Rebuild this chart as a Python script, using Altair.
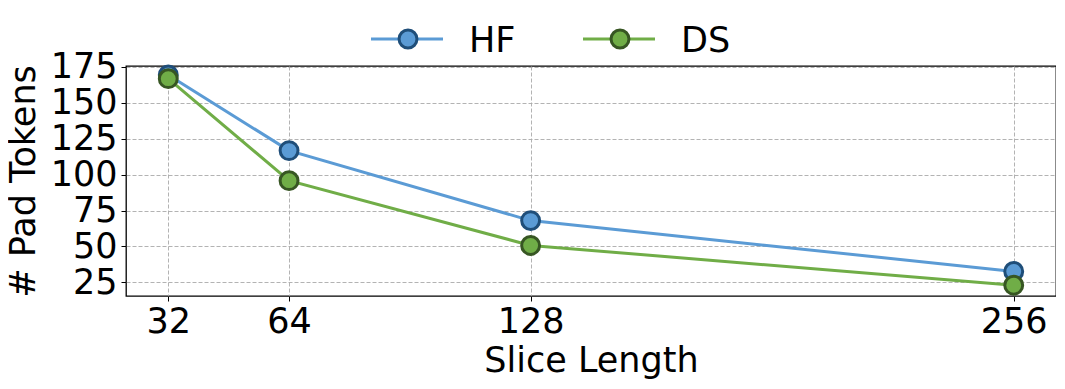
import altair as alt
import pandas as pd

slice_length = [32, 64, 128, 256]
hf_tokens = [169.4, 116.7, 68.0, 32.6]
ds_tokens = [166.8, 95.8, 50.7, 23.0]
series_names = ["HF", "DS"]
fill_colors = ["#5B9BD5", "#70AD47"]
edge_colors = ["#1F4E79", "#375623"]
y_ticks = [25, 50, 75, 100, 125, 150, 175]

df = pd.DataFrame({
    "Slice Length": slice_length * 2,
    "Pad Tokens": hf_tokens + ds_tokens,
    "Series": ["HF"] * 4 + ["DS"] * 4,
})

FONT = "DejaVu Sans"
x_scale = alt.Scale(domain=[20.8, 267.2], nice=False, zero=False)
y_scale = alt.Scale(domain=[15.5, 175.6], nice=False, zero=False)

x_enc = alt.X("Slice Length:Q", scale=x_scale,
              axis=alt.Axis(values=slice_length, title="Slice Length", format="d"))
y_enc = alt.Y("Pad Tokens:Q", scale=y_scale,
              axis=alt.Axis(values=y_ticks, title="# Pad Tokens"))

layers = []
for name, fc, ec in zip(series_names, fill_colors, edge_colors):
    sub = alt.Chart(df).transform_filter(alt.datum.Series == name)
    layers.append(sub.mark_line(color=fc, strokeWidth=3).encode(x=x_enc, y=y_enc))
    layers.append(sub.mark_point(filled=True, shape="circle", size=320, fill=fc,
                                 stroke=ec, strokeWidth=3, opacity=1).encode(x=x_enc, y=y_enc))

# manual legend above the plot
legend_x = [282, 494]
leg_df = pd.DataFrame({"Series": series_names})
for name, fc, ec, lx in zip(series_names, fill_colors, edge_colors, legend_x):
    base = alt.Chart(leg_df).transform_filter(alt.datum.Series == name)
    layers.append(base.mark_rule(color=fc, strokeWidth=3).encode(
        x=alt.value(lx - 37), x2=alt.value(lx + 35), y=alt.value(-27)))
    layers.append(base.mark_point(filled=True, shape="circle", size=320, fill=fc,
                                  stroke=ec, strokeWidth=3, opacity=1).encode(
        x=alt.value(lx), y=alt.value(-27)))
    layers.append(base.mark_text(align="left", baseline="middle", font=FONT,
                                 fontSize=35, color="black").encode(
        x=alt.value(lx + 61), y=alt.value(-25), text="Series:N"))

chart = alt.layer(*layers).properties(
    width=930, height=230,
    autosize=alt.AutoSizeParams(type="none"),
    padding={"left": 118, "top": 58, "right": 0, "bottom": 86},
).configure_view(
    stroke="black", strokeWidth=1.3
).configure_axis(
    domain=False,
    grid=True, gridColor="#aaaaaa", gridDash=[4, 2], gridWidth=0.9,
    ticks=True, tickColor="black", tickSize=5, tickWidth=1,
    labelFont=FONT, labelFontSize=35, labelColor="black",
    titleFont=FONT, titleFontSize=35, titleColor="black", titleFontWeight="normal",
).configure_axisX(
    labelPadding=3, titlePadding=4,
).configure_axisY(
    labelPadding=4, titlePadding=9,
)

chart.save("out.html", embed_options={"renderer": "svg", "actions": False})
